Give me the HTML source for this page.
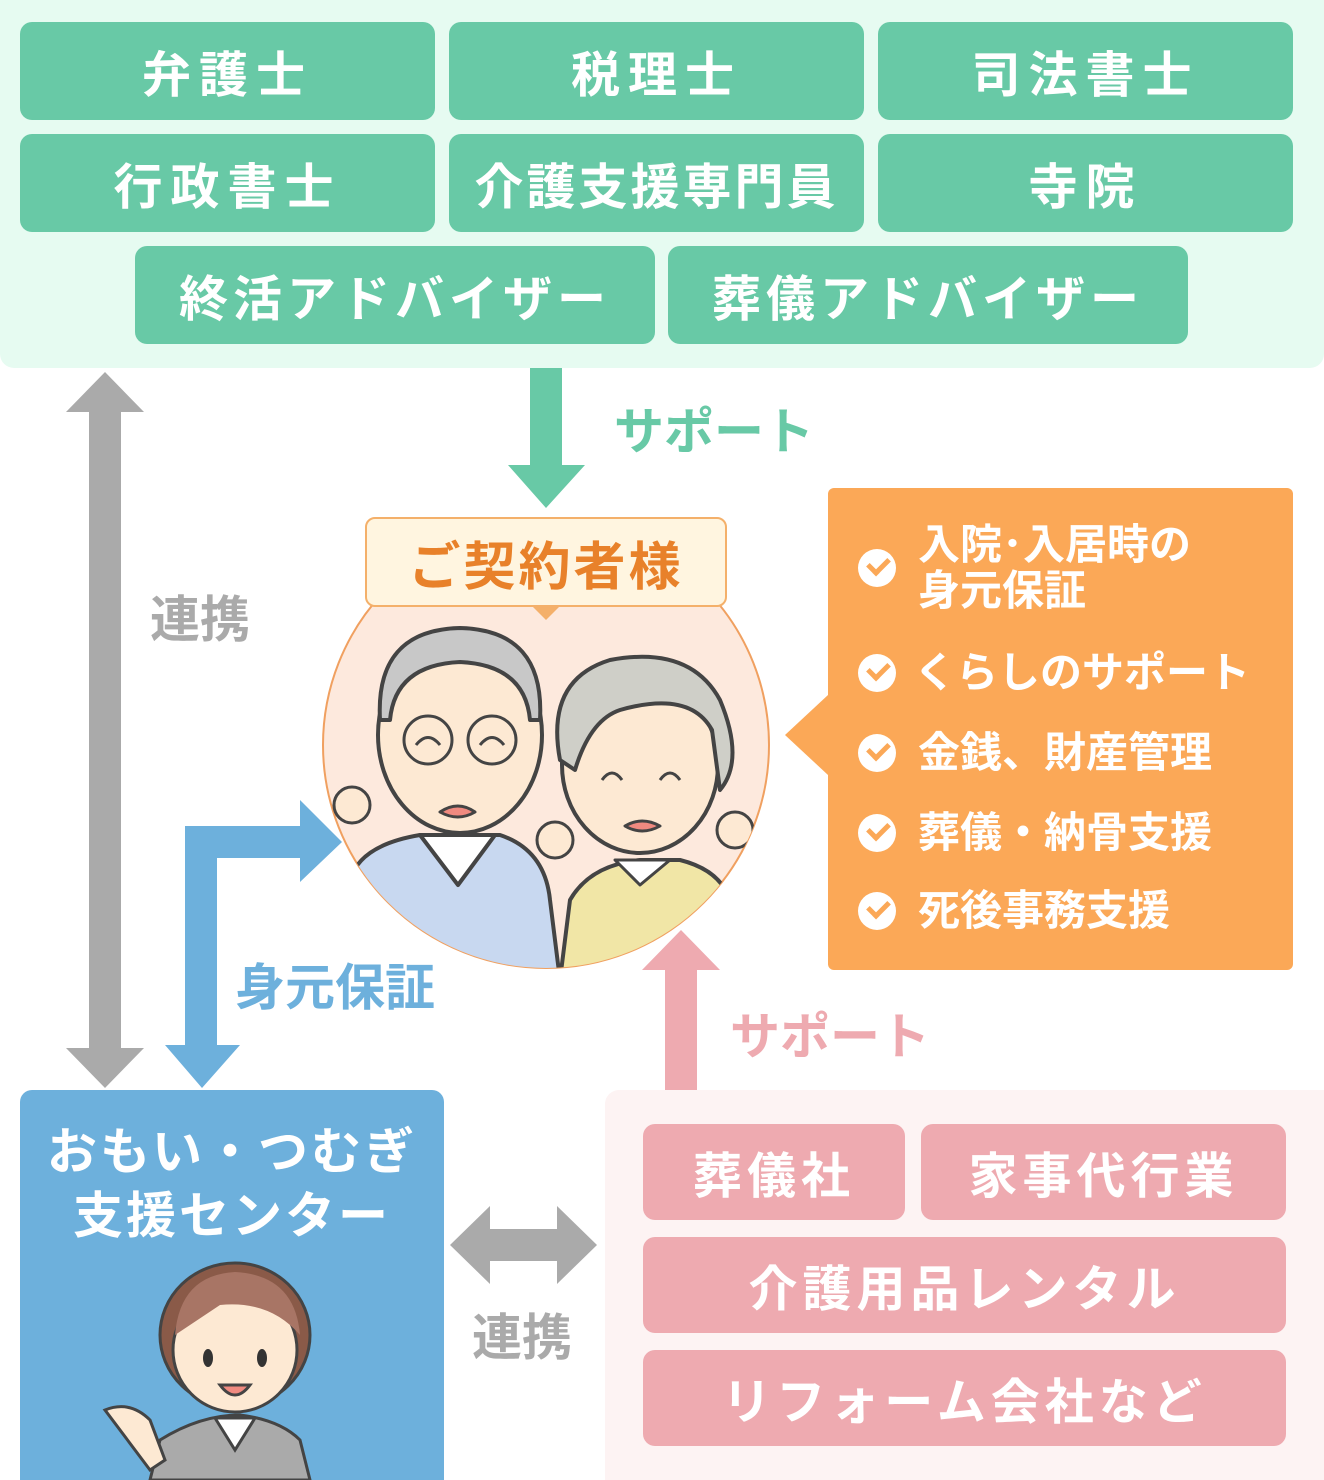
<!DOCTYPE html>
<html><head><meta charset="utf-8">
<style>
*{margin:0;padding:0;box-sizing:border-box}
body{width:1324px;height:1480px;position:relative;background:#fff;overflow:hidden;font-family:"Liberation Sans","Noto Sans CJK JP",sans-serif;font-weight:bold}
.a{position:absolute}
.g{position:absolute;background:#68c9a6;border-radius:12px;color:#fff;font-size:49px;display:flex;align-items:center;justify-content:center;letter-spacing:8px}
.p{position:absolute;background:#eeaab0;border-radius:12px;color:#fff;font-size:49px;display:flex;align-items:center;justify-content:center;letter-spacing:5px}
.t{position:absolute;font-size:50px;white-space:nowrap;line-height:1}
.li{position:absolute;left:858px;color:#fff;font-size:42px;line-height:46px;white-space:nowrap}
.ck{position:absolute;left:0;top:4px;width:38px;height:38px;border-radius:50%;background:#fff}
.ck:after{content:"";position:absolute;left:10px;top:8px;width:16px;height:9px;border-left:5px solid #fba857;border-bottom:5px solid #fba857;transform:rotate(-45deg)}
</style></head><body>
<div class="a" style="left:0;top:0;width:1324px;height:368px;background:#e6fbf1;border-radius:0 0 14px 14px"></div>
<div class="g" style="left:20px;top:22px;width:415px;height:98px">弁護士</div>
<div class="g" style="left:449px;top:22px;width:415px;height:98px">税理士</div>
<div class="g" style="left:878px;top:22px;width:415px;height:98px">司法書士</div>
<div class="g" style="left:20px;top:134px;width:415px;height:98px">行政書士</div>
<div class="g" style="left:449px;top:134px;width:415px;height:98px;letter-spacing:3px">介護支援専門員</div>
<div class="g" style="left:878px;top:134px;width:415px;height:98px">寺院</div>
<div class="g" style="left:135px;top:246px;width:520px;height:98px;letter-spacing:5px">終活アドバイザー</div>
<div class="g" style="left:668px;top:246px;width:520px;height:98px;letter-spacing:5px">葬儀アドバイザー</div>

<div class="a" style="left:605px;top:1090px;width:719px;height:390px;background:#fdf3f3;border-radius:14px 0 0 0"></div>
<div class="a" style="left:20px;top:1090px;width:424px;height:390px;background:#6db0dc;border-radius:12px 12px 0 0"></div>
<div class="a" style="left:828px;top:488px;width:465px;height:482px;background:#fba857;border-radius:6px"></div>

<svg class="a" style="left:0;top:0" width="1324" height="1480">
<polygon points="105,372 144,412 121,412 121,1048 144,1048 105,1088 66,1048 89,1048 89,412 66,412" fill="#aaaaaa"/>
<polygon points="530,368 562,368 562,465 585,465 546,508 508,465 530,465" fill="#68c9a6"/>
<polygon points="185,1045 185,826 300,826 300,800 342,842 300,882 300,858 217,858 217,1045 240,1045 202,1088 165,1045" fill="#6db0dc"/>
<polygon points="665,1090 665,970 642,970 681,930 720,970 697,970 697,1090" fill="#eeaab0"/>
<polygon points="450,1245 490,1206 490,1229 557,1229 557,1206 597,1245 557,1284 557,1261 490,1261 490,1284" fill="#aaaaaa"/>
<polygon points="828,695 785,735 828,775" fill="#fba857"/>
<defs><clipPath id="cc"><circle cx="546" cy="745" r="223"/></clipPath></defs>
<circle cx="546" cy="745" r="223" fill="#fde9dd" stroke="#f0a060" stroke-width="2"/>
<g clip-path="url(#cc)" stroke="#444" stroke-width="4" stroke-linejoin="round">
 <path d="M340,980 L350,880 Q360,845 420,835 L500,835 Q545,850 550,900 L560,980 Z" fill="#c8d8f0"/>
 <path d="M420,835 L458,885 L495,835 Z" fill="#fff"/>
 <ellipse cx="460" cy="735" rx="82" ry="98" fill="#fde9d3"/>
 <path d="M380,720 Q375,630 460,628 Q545,630 540,720 L530,720 Q525,665 460,662 Q395,665 390,720 Z" fill="#c8c8c8"/>
 <circle cx="428" cy="740" r="24" fill="none" stroke-width="3"/><circle cx="492" cy="740" r="24" fill="none" stroke-width="3"/>
 <path d="M416,745 Q428,730 440,745 M480,745 Q492,730 504,745" fill="none" stroke-width="3"/>
 <path d="M440,812 Q458,822 475,812 Q458,800 440,812Z" fill="#f08a80" stroke-width="3"/>
 <circle cx="352" cy="805" r="18" fill="#fde9d3" stroke-width="3"/>
 <path d="M560,980 L570,900 Q590,865 640,860 L680,860 Q720,870 730,900 L740,980 Z" fill="#f1e6a6"/>
 <path d="M615,860 L640,885 L670,860 Z" fill="#fff" stroke-width="3"/>
 <ellipse cx="640" cy="765" rx="78" ry="88" fill="#fde9d3"/>
 <path d="M560,760 Q545,680 610,660 Q690,645 720,700 Q745,760 720,790 L712,730 Q690,690 620,710 Q590,720 575,770 Z" fill="#cfcfc8"/>
 <path d="M602,780 Q612,766 622,780 M660,780 Q670,766 680,780" fill="none" stroke-width="3"/>
 <path d="M625,826 Q642,836 660,826 Q642,816 625,826Z" fill="#f08a80" stroke-width="3"/>
 <circle cx="555" cy="840" r="18" fill="#fde9d3" stroke-width="3"/>
 <circle cx="735" cy="830" r="18" fill="#fde9d3" stroke-width="3"/>
</g>
<g stroke="#444" stroke-width="3">
 <path d="M150,1480 L160,1440 Q200,1415 240,1415 Q280,1420 300,1440 L310,1480 Z" fill="#aaa"/>
 <path d="M215,1418 L235,1450 L255,1418 Z" fill="#fff"/>
 <ellipse cx="235" cy="1335" rx="75" ry="72" fill="#8a5a48"/>
 <ellipse cx="235" cy="1350" rx="62" ry="62" fill="#fde9d3"/>
 <path d="M175,1335 Q180,1275 235,1272 Q295,1275 300,1335 Q270,1300 220,1305 Z" fill="#a87565" stroke="none"/>
 <ellipse cx="208" cy="1358" rx="5" ry="9" fill="#333" stroke="none"/><ellipse cx="262" cy="1358" rx="5" ry="9" fill="#333" stroke="none"/>
 <path d="M220,1385 Q235,1405 250,1385 Z" fill="#f08a80"/>
 <path d="M105,1410 Q130,1400 150,1420 L165,1460 L150,1470 Z" fill="#fde9d3"/>
</g>
</svg>

<div class="t" style="left:614px;top:407px;color:#68c9a6">サポート</div>
<div class="t" style="left:150px;top:595px;color:#aaaaaa">連携</div>
<div class="t" style="left:235px;top:963px;color:#6db0dc">身元保証</div>
<div class="t" style="left:730px;top:1012px;color:#eeaab0">サポート</div>
<div class="t" style="left:472px;top:1313px;color:#aaaaaa">連携</div>

<div class="a" style="left:365px;top:517px;width:362px;height:90px;background:#fff5e0;border:2px solid #f4b06a;border-radius:10px;color:#e8812a;font-size:52px;display:flex;align-items:center;justify-content:center;letter-spacing:3px">ご契約者様</div>
<div class="a" style="left:532px;top:606px;width:0;height:0;border-left:14px solid transparent;border-right:14px solid transparent;border-top:14px solid #f4b06a"></div>

<div class="li" style="top:522px"><span class="ck" style="top:27px"></span><div style="padding-left:60px">入院･入居時の<br>身元保証</div></div>
<div class="li" style="top:650px"><span class="ck"></span><div style="padding-left:56px">くらしのサポート</div></div>
<div class="li" style="top:730px"><span class="ck"></span><div style="padding-left:60px">金銭、財産管理</div></div>
<div class="li" style="top:810px"><span class="ck"></span><div style="padding-left:60px">葬儀・納骨支援</div></div>
<div class="li" style="top:888px"><span class="ck"></span><div style="padding-left:60px">死後事務支援</div></div>

<div class="a" style="left:20px;top:1120px;width:424px;text-align:center;color:#fff;font-size:50px;line-height:64px;letter-spacing:3px">おもい・つむぎ<br>支援センター</div>

<div class="p" style="left:643px;top:1124px;width:262px;height:96px">葬儀社</div>
<div class="p" style="left:921px;top:1124px;width:365px;height:96px">家事代行業</div>
<div class="p" style="left:643px;top:1237px;width:643px;height:96px">介護用品レンタル</div>
<div class="p" style="left:643px;top:1350px;width:643px;height:96px">リフォーム会社など</div>
</body></html>
